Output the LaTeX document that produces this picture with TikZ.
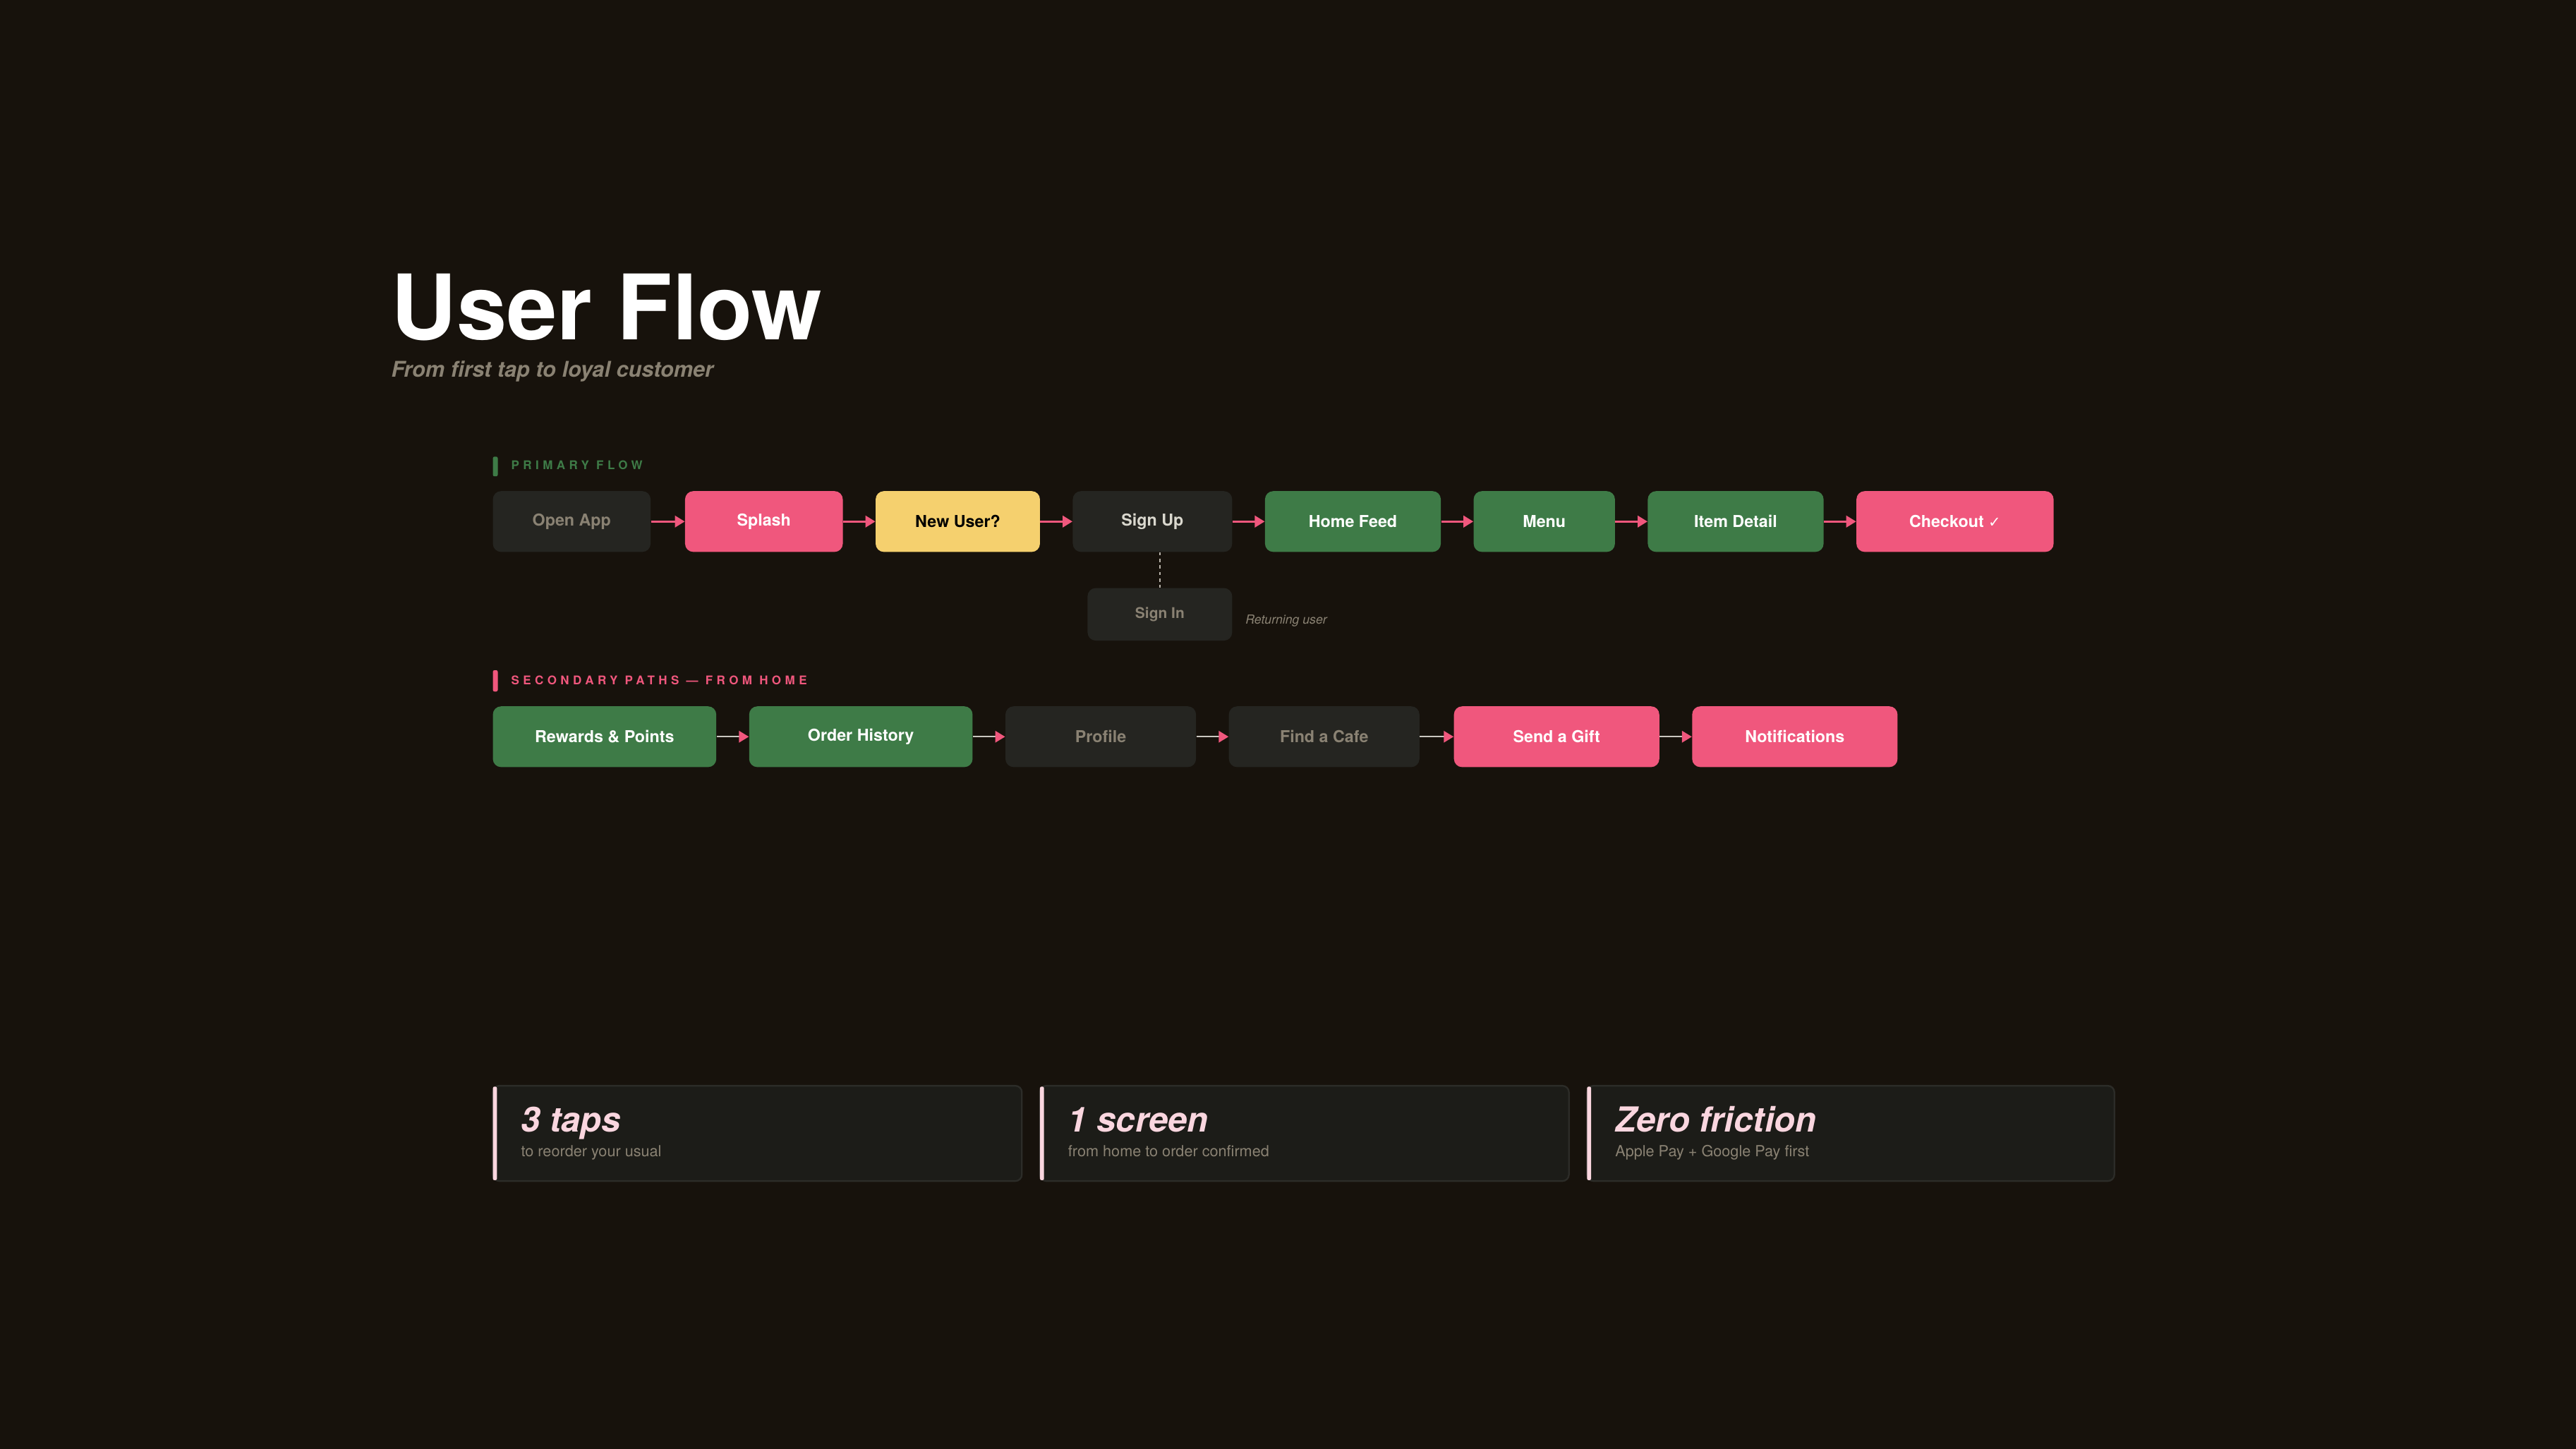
\documentclass[tikz,border=0pt]{standalone}
\usepackage{fontspec}
\setmainfont{TeX Gyre Heros}
\newfontfamily\symf{DejaVu Sans}
\usetikzlibrary{arrows.meta}
\definecolor{bg}{HTML}{17120C}
\definecolor{dk}{HTML}{252521}
\definecolor{gr}{HTML}{3E7B47}
\definecolor{pk}{HTML}{F0577D}
\definecolor{yl}{HTML}{F5D06E}
\definecolor{cd}{HTML}{1C1C18}
\definecolor{cb}{HTML}{2C2C28}
\definecolor{lp}{HTML}{FAD6DF}
\definecolor{gt}{HTML}{8A8273}
\definecolor{lt}{HTML}{DAD8CE}
\begin{document}
\begin{tikzpicture}[x=1pt,y=-1pt,
 box/.style={rounded corners=5pt,inner sep=0pt,minimum height=37pt,font=\bfseries\fontsize{10}{12}\selectfont},
 pa/.style={draw=pk,line width=1.3pt,-{Triangle[length=6pt,width=7pt]}},
 sa/.style={draw=gt!45,line width=1pt,-{Triangle[length=6pt,width=7pt,fill=pk,color=pk]}},
 lab/.style={anchor=west,inner sep=0pt,font=\bfseries\fontsize{7.3}{8}\selectfont},
 card/.style={fill=cd,draw=cb,line width=1pt,rounded corners=4pt},
 big/.style={anchor=base west,inner sep=0pt,lp,font=\bfseries\itshape\fontsize{21}{24}\selectfont},
 sml/.style={anchor=base west,inner sep=0pt,gt,font=\fontsize{9.3}{10}\selectfont}]
\fill[bg] (0,0) rectangle (1568,882);
\useasboundingbox (0,0) rectangle (1568,882);
\node[anchor=base west,inner sep=0pt,white,font=\bfseries\fontsize{55}{55}\selectfont] (t) at (238,207) {User Flow};
\node[anchor=west,inner sep=0pt,gt,font=\itshape\bfseries\fontsize{13.2}{14}\selectfont] (st) at (238,226) {From first tap to loyal customer};
% labels
\fill[gr,rounded corners=1pt] (300,278) rectangle (303,290);
\node[lab,gr] (l1) at (311,283) {\addfontfeature{LetterSpace=32}PRIMARY FLOW};
\fill[pk,rounded corners=1pt] (300,408) rectangle (303,421);
\node[lab,pk] (l2) at (311,414) {\addfontfeature{LetterSpace=32}SECONDARY PATHS — FROM HOME};
% primary row
\node[box,fill=dk,text=gt,minimum width=96pt] (a) at (348,317.5) {Open App};
\node[box,fill=pk,text=white,minimum width=96pt] (b) at (465,317.5) {Splash};
\node[box,fill=yl,text=black,minimum width=100pt] (c) at (583,317.5) {New User?};
\node[box,fill=dk,text=lt,minimum width=97pt] (d) at (701.5,317.5) {Sign Up};
\node[box,fill=gr,text=white,minimum width=107pt] (e) at (823.5,317.5) {Home Feed};
\node[box,fill=gr,text=white,minimum width=86pt] (f) at (940,317.5) {Menu};
\node[box,fill=gr,text=white,minimum width=107pt] (g) at (1056.5,317.5) {Item Detail};
\node[box,fill=pk,text=white,minimum width=120pt] (h) at (1190,317.5) {Checkout {\symf\mdseries\fontsize{9}{10}\selectfont ✓}};
\foreach \u/\v in {a/b,b/c,c/d,d/e,e/f,f/g,g/h} \draw[pa] (\u) -- (\v);
\node[box,fill=dk,text=gt,minimum width=88pt,minimum height=32pt,font=\bfseries\fontsize{9}{10}\selectfont] (si) at (706,374) {Sign In};
\draw[gt!60,dashed,dash pattern=on 2pt off 2pt,line width=0.6pt] (si.north |- d.south) -- (si.north);
\node[anchor=west,inner sep=0pt,gt,font=\itshape\fontsize{7.6}{8}\selectfont] (ru) at (758,378) {Returning user};
% secondary row
\node[box,fill=gr,text=white,minimum width=136pt] (r1) at (368,448.5) {Rewards \& Points};
\node[box,fill=gr,text=white,minimum width=136pt] (r2) at (524,448.5) {Order History};
\node[box,fill=dk,text=gt,minimum width=116pt] (r3) at (670,448.5) {Profile};
\node[box,fill=dk,text=gt,minimum width=116pt] (r4) at (806,448.5) {Find a Cafe};
\node[box,fill=pk,text=white,minimum width=125pt] (r5) at (947.5,448.5) {Send a Gift};
\node[box,fill=pk,text=white,minimum width=125pt] (r6) at (1092.5,448.5) {Notifications};
\foreach \u/\v in {r1/r2,r2/r3,r3/r4,r4/r5,r5/r6} \draw[sa] (\u) -- (\v);
% cards
\foreach \n/\xa/\xb/\t/\s in {k1/300/622/3 taps/to reorder your usual,k2/633/955/1 screen/from home to order confirmed,k3/966/1287/Zero friction/Apple Pay + Google Pay first}{
 \draw[card] (\xa,661) rectangle (\xb,719);
 \fill[lp,rounded corners=1pt] (\xa,661.5) rectangle (\xa+2.5,718.5);
 \node[big] (\n t) at (\xa+17,689) {\t};
 \node[sml] (\n s) at (\xa+17,704) {\s};
}
\end{tikzpicture}
\end{document}
